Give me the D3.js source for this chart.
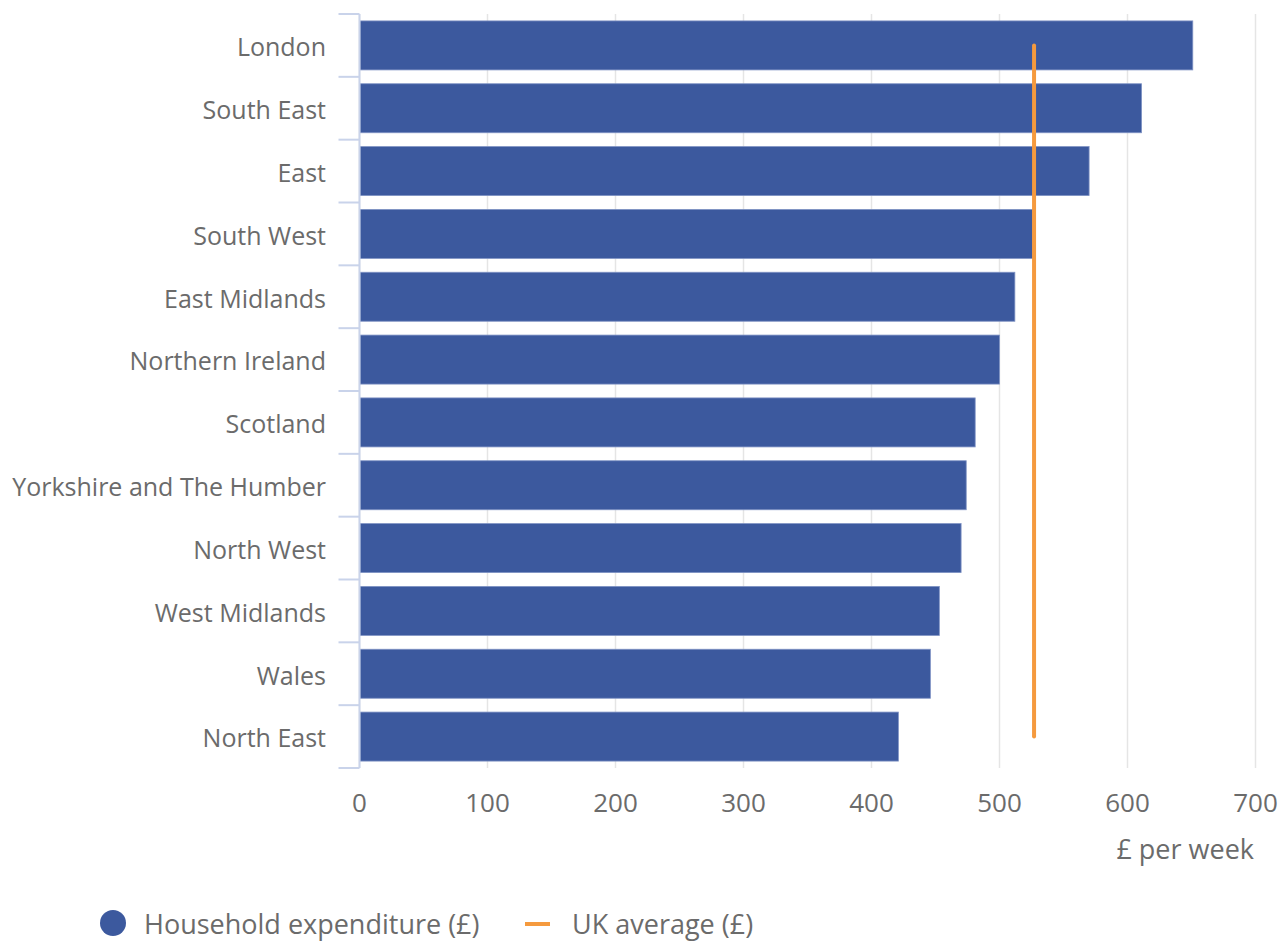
<!DOCTYPE html>
<html>
<head>
<meta charset="utf-8">
<script src="https://cdn.jsdelivr.net/npm/d3@7"></script>
<style>
  html, body { margin: 0; padding: 0; background: #fff; }
  svg text { font-family: "Open Sans", "Noto Sans", sans-serif; fill: #6b6b6b; }
</style>
</head>
<body>
<svg id="chart" width="1284" height="942"></svg>
<script>
// Weekly household expenditure by region (£ per week)
const regions = [
  "London", "South East", "East", "South West", "East Midlands",
  "Northern Ireland", "Scotland", "Yorkshire and The Humber",
  "North West", "West Midlands", "Wales", "North East"
];
const expenditure = [651, 611, 570, 526, 512, 500, 481, 474, 470, 453, 446, 421];
const ukAverage = 527;
const xTicks = [0, 100, 200, 300, 400, 500, 600, 700];
const seriesNames = ["Household expenditure (£)", "UK average (£)"];
const axisTitle = "£ per week";

const barColor = "#3c599e";
const avgColor = "#f59a3e";

const svg = d3.select("#chart");
const margin = { left: 359.5, right: 28.5, top: 14, bottom: 174 };
const W = 1284, H = 942;

const x = d3.scaleLinear().domain([0, 700]).range([margin.left, W - margin.right]);
const y = d3.scaleBand().domain(regions).range([margin.top, H - margin.bottom]).paddingInner(0.22).paddingOuter(0.11);

// gridlines
svg.append("g").selectAll("line").data(xTicks).join("line")
  .attr("x1", d => x(d)).attr("x2", d => x(d))
  .attr("y1", margin.top).attr("y2", H - margin.bottom)
  .attr("stroke", "#e5e5e5").attr("stroke-width", 1.5);

// bars
svg.append("g").selectAll("rect").data(regions).join("rect")
  .attr("x", x(0) + 0.5)
  .attr("y", d => y(d))
  .attr("width", (d, i) => x(expenditure[i]) - x(0) - 0.5)
  .attr("height", y.bandwidth())
  .attr("fill", barColor)
  .attr("stroke", "#7f93c4").attr("stroke-width", 0.8);

// category axis: line plus ticks at band boundaries
const bandEdges = regions.map(r => y(r) - y.step() * y.paddingInner() / 2);
bandEdges.push(H - margin.bottom);
const axisG = svg.append("g");
axisG.append("line")
  .attr("x1", x(0)).attr("x2", x(0))
  .attr("y1", margin.top).attr("y2", H - margin.bottom)
  .attr("stroke", "#c9d3ea").attr("stroke-width", 2);
axisG.selectAll("line.tick").data(bandEdges).join("line").attr("class", "tick")
  .attr("x1", x(0) - 21).attr("x2", x(0))
  .attr("y1", d => d).attr("y2", d => d)
  .attr("stroke", "#c9d3ea").attr("stroke-width", 2);

// category labels
svg.append("g").selectAll("text").data(regions).join("text")
  .attr("x", 326)
  .attr("y", d => y(d) + y.bandwidth() / 2 + 2)
  .attr("dy", "0.35em")
  .attr("text-anchor", "end")
  .style("font-size", "25px")
  .text(d => d);

// value axis labels
svg.append("g").selectAll("text").data(xTicks).join("text")
  .attr("x", d => x(d))
  .attr("y", 803)
  .attr("dy", "0.35em")
  .attr("text-anchor", "middle")
  .style("font-size", "26px")
  .text(d => d);

svg.append("text")
  .attr("x", 1254).attr("y", 850).attr("dy", "0.35em")
  .attr("text-anchor", "end")
  .style("font-size", "27px")
  .text(axisTitle);

// UK average line
svg.append("line")
  .attr("x1", x(ukAverage)).attr("x2", x(ukAverage))
  .attr("y1", y(regions[0]) + y.bandwidth() / 2)
  .attr("y2", y(regions[regions.length - 1]) + y.bandwidth() / 2)
  .attr("stroke", avgColor).attr("stroke-width", 4).attr("stroke-linecap", "round");

// legend
const lg = svg.append("g");
lg.append("circle").attr("cx", 113).attr("cy", 923).attr("r", 13).attr("fill", barColor);
lg.append("text").attr("x", 144).attr("y", 925).attr("dy", "0.35em").style("font-size", "27px").text(seriesNames[0]);
lg.append("line").attr("x1", 525).attr("x2", 550).attr("y1", 924).attr("y2", 924)
  .attr("stroke", avgColor).attr("stroke-width", 4);
lg.append("text").attr("x", 572).attr("y", 925).attr("dy", "0.35em").style("font-size", "27px").text(seriesNames[1]);
</script>
</body>
</html>
